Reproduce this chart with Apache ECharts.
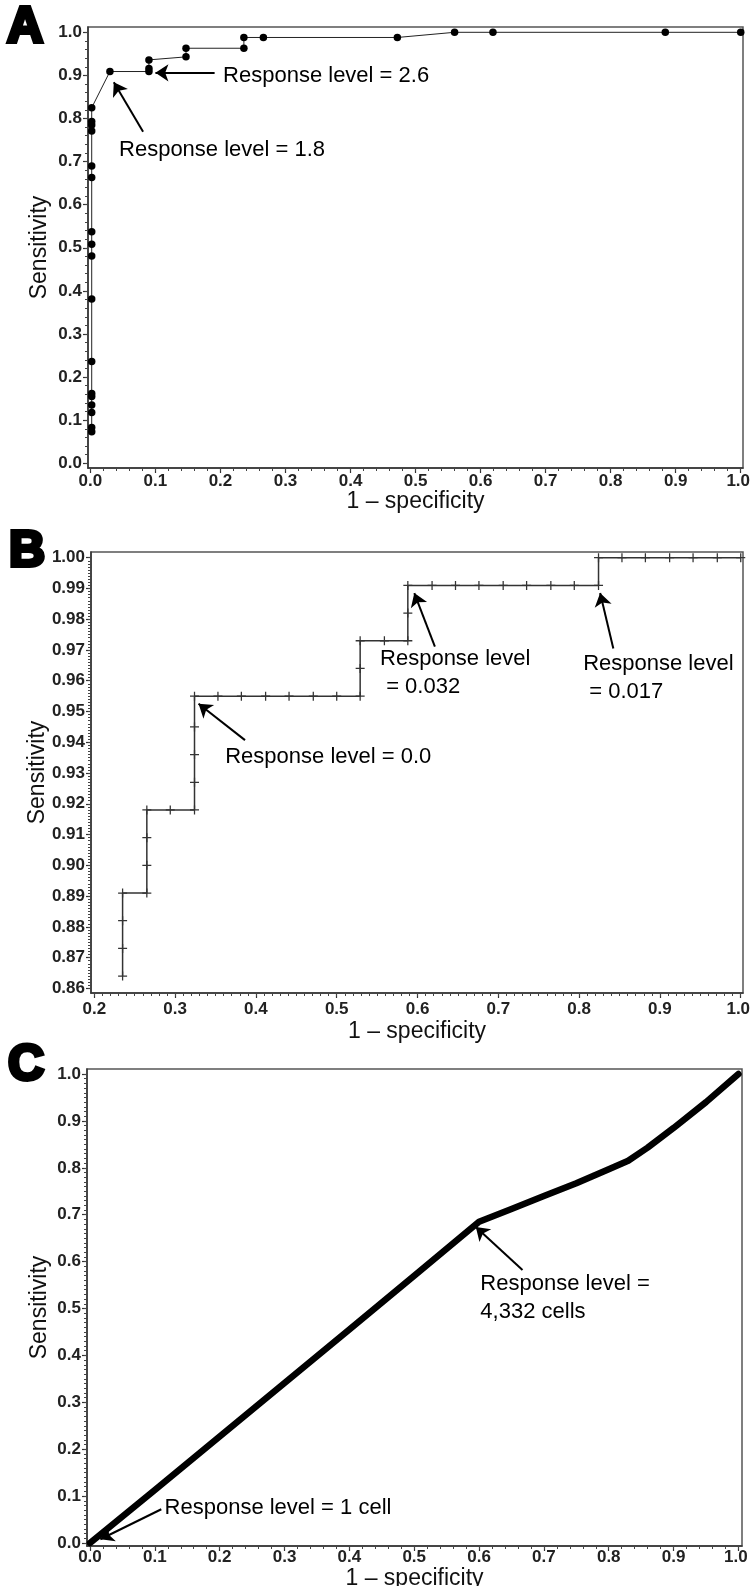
<!DOCTYPE html>
<html><head><meta charset="utf-8">
<script src="https://cdn.jsdelivr.net/npm/echarts@6/dist/echarts.min.js"></script>
<style>html,body{margin:0;padding:0;background:#fff}#c{width:750px;height:1586px}</style>
</head><body><div id="c"></div>
<script>
// ---------- Panel A data (1 – specificity, sensitivity) ----------
const aX = [0.002,0.002,0.002,0.002,0.002,0.002,0.002,0.002,0.002,0.002,0.002,0.002,0.002,0.002,0.002,0.002,0.002,0.030,0.090,0.090,0.090,0.147,0.147,0.236,0.236,0.266,0.472,0.560,0.619,0.884,1.000];
const aY = [0.073,0.083,0.118,0.135,0.155,0.162,0.236,0.381,0.481,0.508,0.537,0.663,0.690,0.771,0.785,0.793,0.825,0.909,0.909,0.916,0.936,0.943,0.963,0.963,0.988,0.988,0.988,1.000,1.000,1.000,1.000];
// ---------- Panel B data ----------
const bX = [0.235,0.235,0.235,0.235,0.265,0.265,0.265,0.265,0.294,0.324,0.324,0.324,0.324,0.324,0.353,0.382,0.412,0.441,0.471,0.500,0.529,0.529,0.529,0.559,0.588,0.588,0.588,0.618,0.647,0.676,0.706,0.735,0.765,0.794,0.824,0.824,0.853,0.882,0.912,0.941,0.971,1.000];
const bY = [0.864,0.873,0.882,0.891,0.891,0.900,0.909,0.918,0.918,0.918,0.927,0.936,0.945,0.955,0.955,0.955,0.955,0.955,0.955,0.955,0.955,0.964,0.973,0.973,0.973,0.982,0.991,0.991,0.991,0.991,0.991,0.991,0.991,0.991,0.991,1.000,1.000,1.000,1.000,1.000,1.000,1.000];
// ---------- Panel C data ----------
const cX = [0,0.1,0.2,0.3,0.4,0.5,0.6,0.65,0.7,0.75,0.8,0.83,0.86,0.9,0.95,1.0];
const cY = [0,0.113,0.227,0.341,0.455,0.570,0.685,0.712,0.740,0.767,0.797,0.815,0.843,0.885,0.940,1.0];
// ---------- tick labels ----------
const ticks01 = [0,0.1,0.2,0.3,0.4,0.5,0.6,0.7,0.8,0.9,1.0];
const ticksBX = [0.2,0.3,0.4,0.5,0.6,0.7,0.8,0.9,1.0];
const ticksBY = [0.86,0.87,0.88,0.89,0.90,0.91,0.92,0.93,0.94,0.95,0.96,0.97,0.98,0.99,1.00];
const xTitle = '1 \u2013 specificity';
const yTitle = 'Sensitivity';

const FONT = '"Liberation Sans", Arial, Helvetica, sans-serif';
const TICKFONT = 17;
function seq(a, b, step) { const r = []; const n = Math.round((b - a) / step); for (let i = 0; i <= n; i++) r.push(+(a + i * step).toFixed(4)); return r; }
function zip(x, y) { return x.map((v, i) => [v, y[i]]); }

const grids = [
  { left: 88, top: 27, width: 655, height: 441 },
  { left: 91, top: 552, width: 652, height: 441 },
  { left: 87, top: 1069, width: 655, height: 477 }
];
grids.forEach(g => { g.show = true; g.borderColor = '#555'; g.borderWidth = 1.5; g.backgroundColor = 'transparent'; g.containLabel = false; g.outerBoundsMode = 'none'; });

function mkAxes(dim, gi, min, max, major, minor, dec, gap, margin) {
  const pos = dim === 'x' ? 'bottom' : 'left';
  const last = major[major.length - 1];
  const main = {
    type: 'value', gridIndex: gi, min: min, max: max, position: pos,
    axisLine: { show: true, onZero: false, lineStyle: { color: '#333', width: 1.5 } },
    axisTick: { show: true, inside: false, length: 5, customValues: major, lineStyle: { color: '#333', width: 1.2 } },
    axisLabel: { show: true, customValues: major,
      formatter: v => (dim === 'x' && Math.abs(v - last) < 1e-9) ? '{e|' + v.toFixed(dec) + '}' : v.toFixed(dec),
      rich: { e: { padding: [0, 5, 0, 0], fontFamily: FONT, fontSize: TICKFONT, fontWeight: 'bold', color: '#222' } },
      fontFamily: FONT, fontSize: TICKFONT, fontWeight: 'bold', color: '#222', margin: margin, hideOverlap: false },
    splitLine: { show: false },
    name: dim === 'x' ? xTitle : yTitle, nameLocation: 'middle', nameGap: gap, nameMoveOverlap: false,
    nameTextStyle: { fontFamily: FONT, fontSize: 23, color: '#111' }
  };
  const mn = {
    type: 'value', gridIndex: gi, min: min, max: max, position: pos,
    axisLine: { show: false, onZero: false },
    axisTick: { show: true, inside: false, length: 3, customValues: minor, lineStyle: { color: '#444', width: 1 } },
    axisLabel: { show: false }, splitLine: { show: false }
  };
  return [main, mn];
}

const xAxes = [].concat(
  mkAxes('x', 0, -0.0037, 1.0035, ticks01, seq(0, 1, 0.02), 1, 22, 5),
  mkAxes('x', 1, 0.1959, 1.0028, ticksBX, seq(0.2, 1, 0.01), 1, 27, 8),
  mkAxes('x', 2, -0.0046, 1.0055, ticks01, seq(0, 1, 0.02), 1, 21, 3)
);
const yAxes = [].concat(
  mkAxes('y', 0, -0.0109, 1.0123, ticks01, seq(0, 1, 0.02), 1, 37, 6),
  mkAxes('y', 1, 0.8585, 1.00185, ticksBY, seq(0.86, 1, 0.001), 2, 42, 6),
  mkAxes('y', 2, -0.0064, 1.0107, ticks01, seq(0, 1, 0.01), 1, 36, 6)
);

const annoText = { fontFamily: FONT, fontSize: 22, color: '#000', lineHeight: 28 };
function arrows(list) {
  return { silent: true, symbol: ['none', 'arrow'], symbolSize: 13, label: { show: false },
    lineStyle: { color: '#000', width: 2, type: 'solid' }, emphasis: { disabled: true },
    data: list.map(a => [{ coord: a[0] }, { coord: a[1] }]) };
}
function texts(list) {
  return { silent: true, symbol: 'circle', symbolSize: 0,
    data: list.map(t => ({ coord: t[0], label: Object.assign({ show: true, position: 'right', distance: 0, formatter: t[1] }, annoText) })) };
}
const crossPath = 'path://M4.3,0h1.4v4.3h4.3v1.4h-4.3v4.3h-1.4v-4.3h-4.3v-1.4h4.3z';

const option = {
  animation: false,
  backgroundColor: '#fff',
  grid: grids,
  xAxis: xAxes,
  yAxis: yAxes,
  series: [
    { type: 'line', xAxisIndex: 0, yAxisIndex: 0, data: zip(aX, aY), symbol: 'circle', symbolSize: 7.5,
      itemStyle: { color: '#000' }, lineStyle: { color: '#222', width: 1 }, silent: true,
      markLine: arrows([[[0.191, 0.906], [0.100, 0.906]], [[0.081, 0.769], [0.036, 0.884]]]),
      markPoint: texts([[[0.204, 0.899], 'Response level = 2.6'], [[0.044, 0.727], 'Response level = 1.8']]) },
    { type: 'line', xAxisIndex: 2, yAxisIndex: 2, data: zip(bX, bY), symbol: crossPath, symbolSize: 9, symbolKeepAspect: true,
      itemStyle: { color: '#333' }, lineStyle: { color: '#333', width: 1.5 }, silent: true,
      markLine: arrows([[[0.3865, 0.9407], [0.329, 0.9525]], [[0.6215, 0.9711], [0.596, 0.9885]], [[0.8423, 0.9705], [0.826, 0.9885]]]),
      markPoint: texts([[[0.362, 0.9353], 'Response level = 0.0'], [[0.5536, 0.9624], 'Response level\n = 0.032'], [[0.805, 0.9610], 'Response level\n = 0.017']]) },
    { type: 'line', xAxisIndex: 4, yAxisIndex: 4, data: zip(cX, cY), symbol: 'none',
      lineStyle: { color: '#000', width: 6.5, cap: 'round', join: 'round' }, silent: true,
      markLine: arrows([[[0.667, 0.582], [0.595, 0.674]], [[0.110, 0.072], [0.016, 0.008]]]),
      markPoint: texts([[[0.602, 0.522], 'Response level =\n4,332 cells'], [[0.115, 0.075], 'Response level = 1 cell']]) }
  ],
  graphic: [
    { type: 'text', left: 5, top: 1, style: { text: 'A', font: 'bold 50px ' + FONT, fill: '#000', stroke: '#000', lineWidth: 4 } },
    { type: 'text', left: 7, top: 525, style: { text: 'B', font: 'bold 50px ' + FONT, fill: '#000', stroke: '#000', lineWidth: 4 } },
    { type: 'text', left: 6, top: 1039, style: { text: 'C', font: 'bold 50px ' + FONT, fill: '#000', stroke: '#000', lineWidth: 4 } }
  ]
};
const chart = echarts.init(document.getElementById('c'), null, { renderer: 'canvas', width: 750, height: 1586 });
chart.setOption(option);
</script>
</body></html>
